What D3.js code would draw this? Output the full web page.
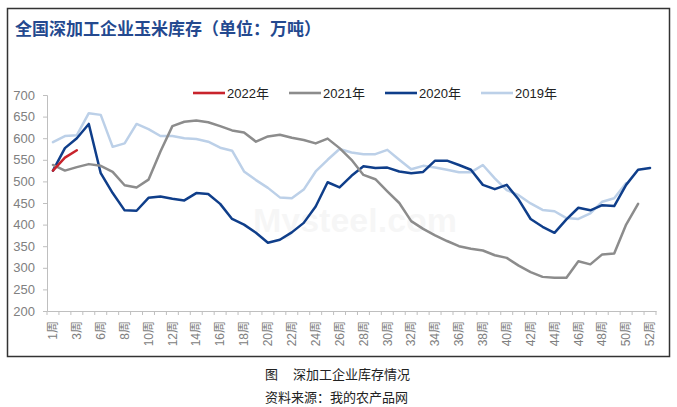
<!DOCTYPE html>
<html><head><meta charset="utf-8">
<script src="https://cdn.jsdelivr.net/npm/d3@7/dist/d3.min.js"></script>
<style>
html,body{margin:0;padding:0;background:#fff;}
svg{display:block;}
</style></head>
<body>
<svg id="chart" width="677" height="407"></svg>
<script>
// ---- data ----
const categories = ["1周","2周","3周","4周"].concat(d3.range(6,53).map(w => w + "周"));
const tickLabels = categories.filter((d,i) => i % 2 === 0);
const yTicks = [200,250,300,350,400,450,500,550,600,650,700];
const seriesNames = ["2022年","2021年","2020年","2019年"];
const s2022 = [525,555,572];
const s2021 = [538,525,533,540,536,522,491,486,504,569,628,638,641,637,628,618,613,592,604,608,601,596,588,599,577,550,515,505,477,450,408,390,375,362,350,344,340,329,323,305,290,279,277,277,315,308,331,333,400,448];
const s2020 = [525,577,600,633,519,473,433,432,462,465,460,456,473,471,448,413,400,381,358,365,382,404,442,498,486,513,535,531,532,523,519,522,548,548,538,527,492,482,492,458,413,395,381,412,439,433,445,443,492,527,531];
const s2019 = [591,605,607,658,654,580,588,633,621,605,605,600,598,592,578,571,523,503,485,463,461,481,523,550,575,567,563,563,573,550,528,536,532,527,521,521,538,507,480,468,449,434,431,415,413,426,453,461,496];
const colors = {"2022年":"#C8232C","2021年":"#8C8C8C","2020年":"#0F3E8A","2019年":"#BCD0E8"};
const seriesData = {"2022年":s2022,"2021年":s2021,"2020年":s2020,"2019年":s2019};

const svg = d3.select("#chart");

// frame
svg.append("rect").attr("x",7.5).attr("y",8.5).attr("width",662).attr("height",348)
  .attr("fill","none").attr("stroke","#333").attr("stroke-width",1.5);

// title
svg.append("text").attr("x",15).attr("y",35)
  .attr("font-family","'Noto Sans CJK SC', sans-serif").attr("font-weight","bold")
  .attr("font-size",17).attr("fill","#24498F")
  .text("全国深加工企业玉米库存（单位：万吨）");

// scales
const x = d3.scaleBand().domain(categories).range([47,656]).padding(0);
const y = d3.scaleLinear().domain([200,700]).range([311,95]);

// faint watermark
svg.append("text").attr("x",355).attr("y",232).attr("text-anchor","middle")
  .attr("font-family","'Liberation Sans', Arial, sans-serif").attr("font-weight","bold")
  .attr("font-size",34).attr("fill","#000").attr("opacity",0.03).text("Mysteel.com");

// y axis
const yAxis = d3.axisLeft(y).tickValues(yTicks).tickSize(4).tickPadding(8);
const gy = svg.append("g").attr("transform","translate(47,0)").call(yAxis);
gy.select(".domain").attr("stroke","#BFBFBF");
gy.selectAll(".tick line").attr("stroke","#BFBFBF");
gy.selectAll("text").attr("font-family","'Liberation Sans', Arial, sans-serif")
  .attr("font-size",13).attr("fill","#808080");

// x axis
const xAxis = d3.axisBottom(x).tickValues(tickLabels).tickSize(0).tickSizeOuter(0);
const gx = svg.append("g").attr("transform","translate(0,311)").call(xAxis);
gx.select(".domain").attr("stroke","#BFBFBF");
gx.selectAll("text")
  .attr("transform","rotate(-90)").attr("x",-10).attr("y",0).attr("dy","0.35em")
  .attr("text-anchor","end")
  .attr("font-family","'Liberation Sans', 'Noto Sans CJK SC', sans-serif")
  .attr("font-size",12).attr("fill","#808080");
// category boundary tick marks
const bounds = categories.map(c => x(c)).concat([x.range()[1]]);
svg.append("g").selectAll("line").data(bounds).join("line")
  .attr("x1",d=>d).attr("x2",d=>d).attr("y1",311).attr("y2",315)
  .attr("stroke","#BFBFBF");

// lines
const line = d3.line().x((d,i) => x(categories[i]) + x.bandwidth()/2).y(d => y(d));
["2019年","2020年","2021年","2022年"].forEach(name => {
  svg.append("path").datum(seriesData[name]).attr("d",line)
    .attr("fill","none").attr("stroke",colors[name]).attr("stroke-width",2.5)
    .attr("stroke-linejoin","round").attr("stroke-linecap","round");
});

// legend
const legendX = [193,289,385,481];
const lg = svg.append("g");
seriesNames.forEach((name,i) => {
  lg.append("line").attr("x1",legendX[i]).attr("x2",legendX[i]+32).attr("y1",93).attr("y2",93)
    .attr("stroke",colors[name]).attr("stroke-width",2.6);
  lg.append("text").attr("x",legendX[i]+34).attr("y",93).attr("dy","0.36em")
    .attr("font-family","'Liberation Sans', 'Noto Sans CJK SC', sans-serif")
    .attr("font-size",13).attr("fill","#222").text(name);
});

// caption
const cap = svg.append("g").attr("font-family","'Noto Sans CJK SC', sans-serif")
  .attr("font-size",13).attr("fill","#222");
cap.append("text").attr("x",265).attr("y",379).text("图");
cap.append("text").attr("x",293).attr("y",379).text("深加工企业库存情况");
cap.append("text").attr("x",265).attr("y",402).text("资料来源：我的农产品网");
</script>
</body></html>
